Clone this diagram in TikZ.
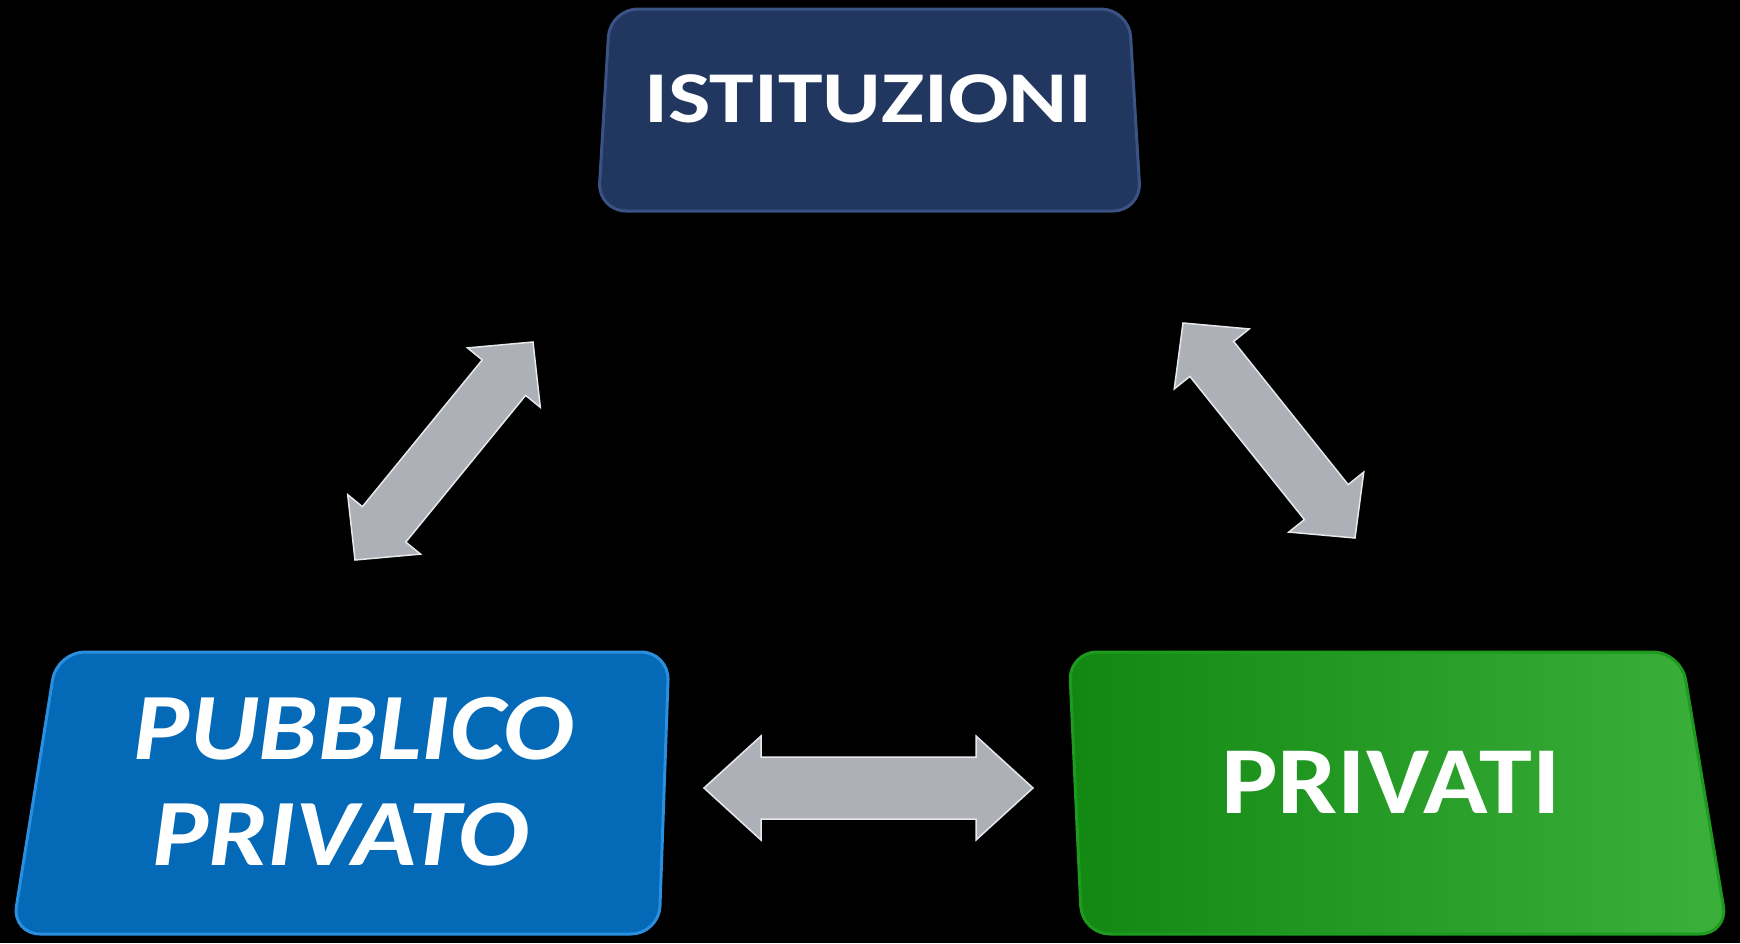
\documentclass[tikz,border=0pt]{standalone}
\usepackage{fontspec}
\setmainfont{Carlito}
\usetikzlibrary{calc}
\definecolor{navy}{HTML}{22375F}
\definecolor{navyedge}{HTML}{3A5384}
\definecolor{pblue}{HTML}{0469B7}
\definecolor{pblueedge}{HTML}{2B8FE0}
\definecolor{gleft}{HTML}{128812}
\definecolor{gright}{HTML}{3BB03B}
\definecolor{gedge}{HTML}{1E9A1E}
\definecolor{agray}{HTML}{ADB0B6}
\definecolor{alight}{HTML}{E6E8EC}
\tikzset{
  boxtext/.style={text=white, inner sep=0pt},
  arrowfill/.style={fill=agray, draw=alight, line width=1.5pt, line join=miter},
}
\newcommand\blockarrow[5]{%
  \coordinate (#1-p) at ($(#1)!#5!(#2)$);
  \coordinate (#2-p) at ($(#2)!#5!(#1)$);
  \path[arrowfill] (#1) -- ($(#1-p)!#4!90:(#2)$) -- ($(#1-p)!#3!90:(#2)$)
    -- ($(#2-p)!#3!-90:(#1)$) -- ($(#2-p)!#4!-90:(#1)$) -- (#2)
    -- ($(#2-p)!#4!90:(#1)$) -- ($(#2-p)!#3!90:(#1)$)
    -- ($(#1-p)!#3!-90:(#2)$) -- ($(#1-p)!#4!-90:(#2)$) -- cycle;
}
\newcommand\wide[2]{\scalebox{#1}[1]{#2}}
\begin{document}
\begin{tikzpicture}[x=1pt,y=-1pt]
\fill[black] (0,0) rectangle (1740,943);
\useasboundingbox (0,0) rectangle (1740,943);
% boxes
\draw[fill=navy, draw=navyedge, line width=3pt, rounded corners=28pt]
  (610,9) -- (1129,9) -- (1141,211) -- (598,211) -- cycle;
\draw[fill=pblue, draw=pblueedge, line width=3pt, rounded corners=28pt]
  (57,652) -- (669,652) -- (659,934) -- (12,934) -- cycle;
\draw[left color=gleft, right color=gright, draw=gedge, line width=3pt, rounded corners=28pt]
  (1069,652) -- (1681,652) -- (1728,934) -- (1082,934) -- cycle;
% texts
\node[boxtext, font=\bfseries\fontsize{73}{80}\selectfont] (ist) at (868,99) {\wide{1.23}{ISTITUZIONI}};
\node[boxtext, align=center, font=\bfseries\itshape\fontsize{95}{106}\selectfont] (pp) at (354,782)
  {\wide{1.11}{PUBBLICO}\\\wide{1.11}{PRIVATO}\hspace*{27pt}};
\node[boxtext, font=\bfseries\fontsize{96}{106}\selectfont] (priv) at (1391,782) {\wide{1.11}{PRIVATI}};
% arrow tips
\coordinate (hL) at (704,788);
\coordinate (hR) at (1033,788);
\coordinate (dLa) at (355,560);
\coordinate (dLb) at (533,342);
\coordinate (dRa) at (1183,323);
\coordinate (dRb) at (1355,538);
\blockarrow{hL}{hR}{31pt}{52pt}{57pt}
\blockarrow{dLa}{dLb}{28pt}{47pt}{46pt}
\blockarrow{dRa}{dRb}{28pt}{48pt}{46pt}
\end{tikzpicture}
\end{document}
